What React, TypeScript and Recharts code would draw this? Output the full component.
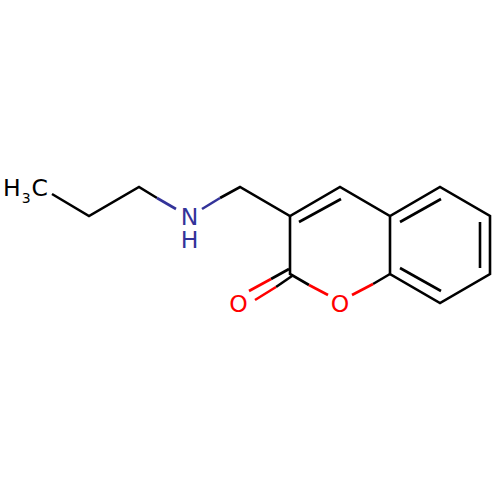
import { Scatter, ScatterChart, XAxis, YAxis } from "recharts"

type Pt = { x: number; y: number }
const pt = (x: number, y: number): Pt => ({ x, y })

const BLACK = "#000000"
const RED = "#ff0000"
const BLUE = "#333399"

// skeleton, in page pixels
const blackBonds: Pt[][] = [
  [pt(52, 194), pt(89, 216), pt(139, 187), pt(157, 198)],
  [pt(220, 198), pt(240, 187), pt(290, 216), pt(340, 187), pt(390, 216), pt(440, 187), pt(490, 216), pt(490, 274), pt(440, 303), pt(390, 274), pt(390, 216)],
  [pt(290, 216), pt(290, 274), pt(309, 285)],
  [pt(390, 274), pt(373, 284)],
  [pt(299, 222), pt(341, 199)],
  [pt(400, 222), pt(441, 199)],
  [pt(480, 222), pt(480, 268)],
  [pt(441, 291), pt(400, 268)],
  [pt(289, 269), pt(271, 279)],
  [pt(292, 276), pt(276, 287)],
]
const redBonds: Pt[][] = [
  [pt(309, 285), pt(328, 295)],
  [pt(373, 284), pt(352, 295)],
  [pt(271, 279), pt(249, 291)],
  [pt(276, 287), pt(255, 300)],
]
const blueBonds: Pt[][] = [
  [pt(157, 198), pt(176, 209)],
  [pt(202, 209), pt(220, 198)],
]

const atomLabels = [
  { x: 238.5, y: 312, text: "O", color: RED },
  { x: 340, y: 312, text: "O", color: RED },
]
const aminePoint = [pt(189.5, 225)]
const methylPoint = [pt(3, 196)]

const LabelMark = (props: any) => (
  <text
    x={props.cx}
    y={props.cy}
    textAnchor="middle"
    fontFamily="DejaVu Sans"
    fontSize={23.5}
    fill={props.payload.color}
  >
    {props.payload.text}
  </text>
)

// N with its H underneath, kept as one text
const AmineMark = (props: any) => (
  <text x={props.cx} y={props.cy} textAnchor="middle" fontFamily="DejaVu Sans" fontSize={23.5} fill={BLUE}>
    N
    <tspan x={props.cx} dy={23}>H</tspan>
  </text>
)

const MethylMark = (props: any) => (
  <text x={props.cx} y={props.cy} fontFamily="DejaVu Sans" fontSize={23.5} fill={BLACK}>
    H
    <tspan fontSize={14} dy={7} dx={1}>3</tspan>
    <tspan dy={-7} dx={1}>C</tspan>
  </text>
)

const bondSeries = (bonds: Pt[][], color: string, name: string) =>
  bonds.map((bond, i) => (
    <Scatter
      key={`${name}-${i}`}
      data={bond}
      line={{ stroke: color, strokeWidth: 2.6 }}
      lineType="joint"
      shape={() => <g />}
      isAnimationActive={false}
    />
  ))

export default function App() {
  return (
    <div style={{ position: "absolute", left: 0, top: 0, width: 500, height: 500, background: "#fff" }}>
      <ScatterChart width={500} height={500} margin={{ top: 0, right: 0, bottom: 0, left: 0 }}>
        <XAxis type="number" dataKey="x" domain={[0, 500]} hide />
        <YAxis type="number" dataKey="y" domain={[0, 500]} reversed hide />
        {bondSeries(blackBonds, BLACK, "black")}
        {bondSeries(redBonds, RED, "red")}
        {bondSeries(blueBonds, BLUE, "blue")}
        <Scatter data={atomLabels} shape={LabelMark} isAnimationActive={false} />
        <Scatter data={aminePoint} shape={AmineMark} isAnimationActive={false} />
        <Scatter data={methylPoint} shape={MethylMark} isAnimationActive={false} />
      </ScatterChart>
    </div>
  )
}
